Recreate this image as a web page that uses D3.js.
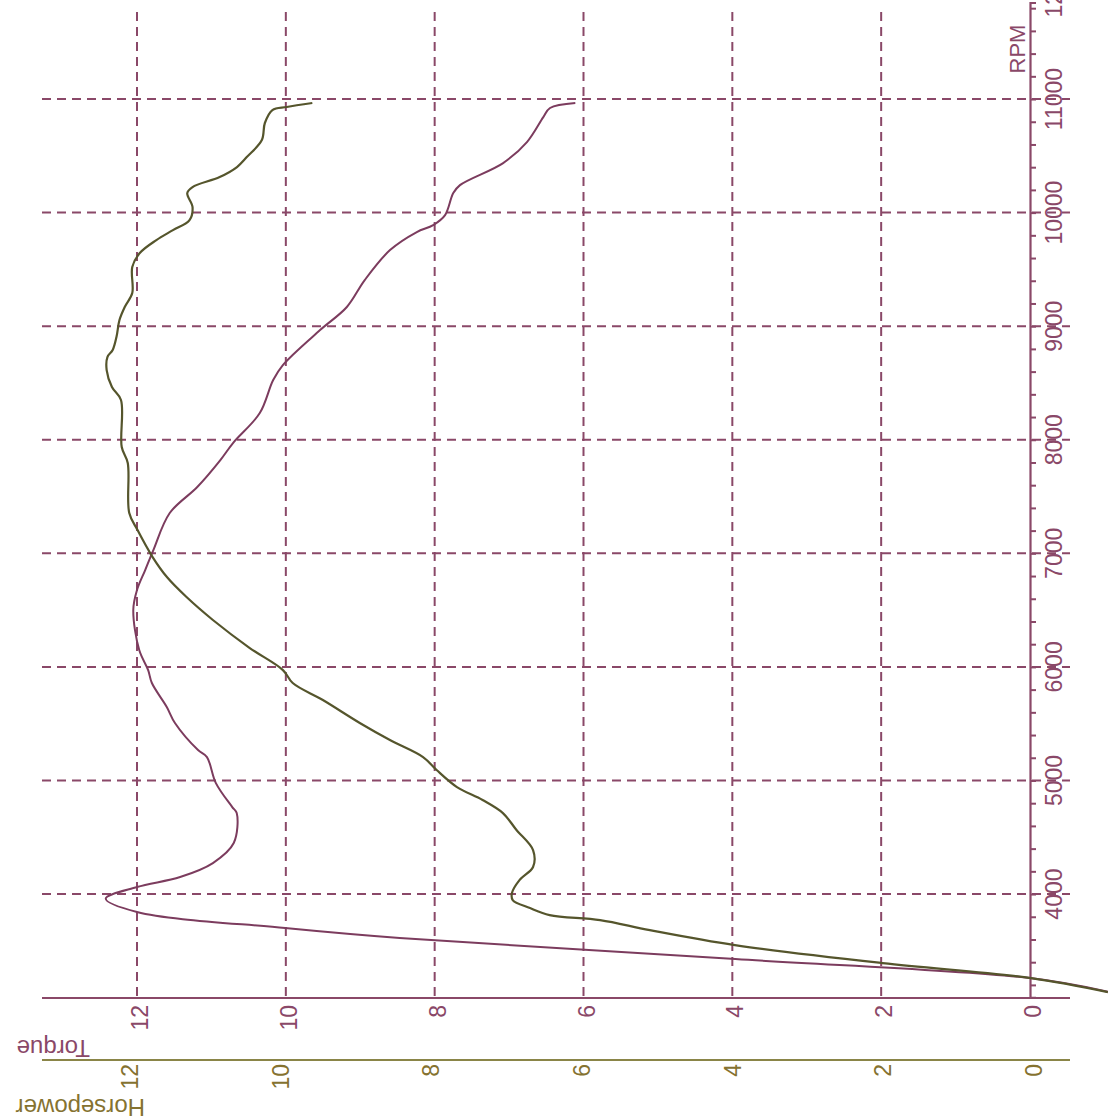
<!DOCTYPE html>
<html><head><meta charset="utf-8">
<script src="https://cdn.jsdelivr.net/npm/d3@7"></script>
<style>html,body{margin:0;padding:0;background:#fff;}svg{display:block;}</style>
</head><body>
<script>
// ---- data (read from the rotated dyno sheet) ----
const rpmTicks = [4000,5000,6000,7000,8000,9000,10000,11000,12000];
const torqueTicks = [0,2,4,6,8,10,12];
const hpTicks = [0,2,4,6,8,10,12];

const torqueRpm = [3140,3260,3428,3613,3701,3842,3960,4062,4150,4273,4449,4713,4766,4977,5206,5268,5506,5647,5858,5972,6148,6501,6677,6853,7029,7355,7584,7821,7971,8235,8526,8658,8966,9169,9406,9670,9829,9890,9978,10172,10242,10436,10621,10841,10921,10965];
const torqueVal = [-1.05,0,3.96,8.47,10.01,12.0,12.42,12.0,11.42,10.98,10.70,10.66,10.72,10.94,11.06,11.18,11.49,11.60,11.80,11.85,11.97,12.05,12.0,11.89,11.78,11.56,11.19,10.88,10.71,10.35,10.17,10.04,9.54,9.18,8.94,8.60,8.24,8.02,7.86,7.75,7.66,7.08,6.76,6.54,6.45,6.11];

const hpRpm = [3137,3260,3392,3551,3683,3771,3815,3877,3947,4009,4123,4238,4387,4564,4713,4828,4942,5092,5206,5356,5506,5708,5858,5972,6166,6413,6615,6791,6967,7205,7355,7795,7936,8350,8464,8614,8728,8790,8904,9054,9169,9292,9521,9644,9758,9846,9934,10049,10172,10225,10313,10401,10489,10639,10789,10903,10930,10965];
const hpVal = [-1.02,0,1.97,3.93,5.06,5.72,6.39,6.65,6.88,6.89,6.79,6.61,6.61,6.83,7.01,7.28,7.62,7.89,8.07,8.51,8.91,9.40,9.80,9.93,10.37,10.86,11.21,11.47,11.66,11.86,11.97,11.99,12.07,12.08,12.20,12.27,12.26,12.19,12.14,12.10,12.03,11.93,11.93,11.83,11.61,11.39,11.17,11.13,11.20,11.13,10.77,10.54,10.41,10.21,10.17,10.07,9.88,9.54];

// ---- styles ----
const W = 1108, H = 1120;
const purple = "#8a4868", purpleLine = "#7c3c5e", olive = "#55552c", oliveAxis = "#8a8548", oliveText = "#857230";
const font = "'Liberation Sans', Arial, sans-serif";

const svg = d3.select("body").append("svg").attr("width", W).attr("height", H);

const y = d3.scaleLinear().domain([3090, 11850]).range([997.4, 2.5]);
const xT = d3.scaleLinear().domain([0, 12]).range([1030, 137]);
const xH = d3.scaleLinear().domain([0, 12]).range([1031, 127]);

// grid: horizontal at RPM majors
svg.append("g").selectAll("line").data(rpmTicks.filter(d => d <= 11000)).join("line")
  .attr("x1", 42).attr("x2", 1070).attr("y1", d => y(d)).attr("y2", d => y(d))
  .attr("stroke", purple).attr("stroke-width", 2).attr("stroke-dasharray", "9,6");
// grid: vertical at torque majors
svg.append("g").selectAll("line").data(torqueTicks.filter(d => d > 0)).join("line")
  .attr("x1", d => xT(d)).attr("x2", d => xT(d)).attr("y1", 12).attr("y2", 997)
  .attr("stroke", purple).attr("stroke-width", 2).attr("stroke-dasharray", "9,6");

// RPM axis (vertical, right)
const minor = d3.range(3200, 12001, 200);
const rpmAxis = svg.append("g").attr("transform", `translate(${xT(0)},0)`)
  .call(d3.axisRight(y).tickValues(minor).tickSize(6).tickFormat(""));
rpmAxis.select(".domain").attr("stroke", purple).attr("stroke-width", 2.2);
rpmAxis.selectAll(".tick line").attr("stroke", purple).attr("stroke-width", 2);

svg.append("g").selectAll("text").data(rpmTicks).join("text")
  .attr("transform", d => `translate(1062,${y(d)}) rotate(-90)`)
  .attr("text-anchor", "middle").attr("font-family", font).attr("font-size", 23)
  .attr("fill", purple).text(d => d);
svg.append("text").attr("transform", `translate(1025,49) rotate(-90)`)
  .attr("text-anchor", "middle").attr("font-family", font).attr("font-size", 22)
  .attr("fill", purple).text("RPM");

// Torque axis (horizontal)
svg.append("line").attr("x1", 42).attr("x2", 1070).attr("y1", 998).attr("y2", 998)
  .attr("stroke", purple).attr("stroke-width", 2.2);
svg.append("g").selectAll("text").data(torqueTicks).join("text")
  .attr("transform", d => `translate(${xT(d) + 11},1005) rotate(-90)`)
  .attr("text-anchor", "end").attr("font-family", font).attr("font-size", 23)
  .attr("fill", purple).text(d => d);
svg.append("text").attr("transform", "translate(90,1040) rotate(180)")
  .attr("text-anchor", "start").attr("font-family", font).attr("font-size", 24)
  .attr("fill", purple).text("Torque");

// Horsepower axis (horizontal)
svg.append("line").attr("x1", 42).attr("x2", 1070).attr("y1", 1060).attr("y2", 1060)
  .attr("stroke", oliveAxis).attr("stroke-width", 2.2);
svg.append("g").selectAll("text").data(hpTicks).join("text")
  .attr("transform", d => `translate(${xH(d) + 11},1064) rotate(-90)`)
  .attr("text-anchor", "end").attr("font-family", font).attr("font-size", 23)
  .attr("fill", oliveText).text(d => d);
svg.append("text").attr("transform", "translate(145,1099) rotate(180)")
  .attr("text-anchor", "start").attr("font-family", font).attr("font-size", 24)
  .attr("fill", oliveText).text("Horsepower");

// curves
const torqueData = torqueRpm.map((r, i) => ({r, v: torqueVal[i]}));
const hpData = hpRpm.map((r, i) => ({r, v: hpVal[i]}));

svg.append("path").datum(torqueData)
  .attr("d", d3.line().x(d => xT(d.v)).y(d => y(d.r)).curve(d3.curveCatmullRom.alpha(0.5)))
  .attr("fill", "none").attr("stroke", purpleLine).attr("stroke-width", 2);
svg.append("path").datum(hpData)
  .attr("d", d3.line().x(d => xH(d.v)).y(d => y(d.r)).curve(d3.curveCatmullRom.alpha(0.5)))
  .attr("fill", "none").attr("stroke", olive).attr("stroke-width", 2.2);
</script>
</body></html>
